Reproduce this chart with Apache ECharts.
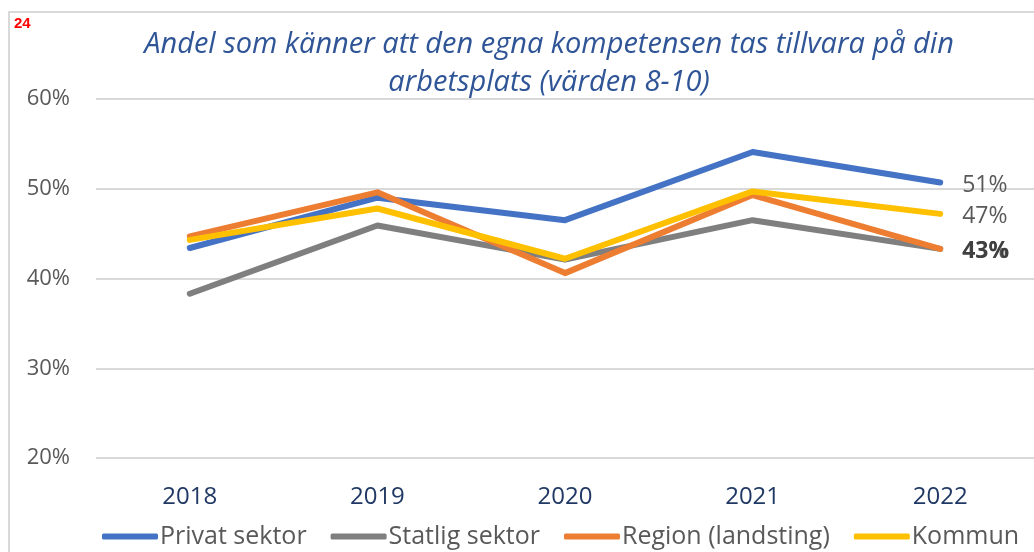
<!DOCTYPE html>
<html>
<head>
    <meta charset="UTF-8">
    <title>Andel som känner att den egna kompetensen tas tillvara</title>
    <script type="text/javascript" src="https://cdn.jsdelivr.net/npm/echarts@6/dist/echarts.min.js"></script>
    <style>
        html, body { margin: 0; padding: 0; background: #fff; overflow: hidden; }
        #frame { position: absolute; left: 8px; top: 11px; width: 1040px; height: 560px;
                 border-left: 2px solid #d9d9d9; border-top: 2px solid #d9d9d9; }
        #chart { position: absolute; left: 0; top: 0; width: 1034px; height: 552px; }
    </style>
</head>
<body>
<div id="frame"></div>
<div id="chart"></div>

<script>
    // data (percent)
    var years = ['2018', '2019', '2020', '2021', '2022'];
    var privat = [43.4, 49.0, 46.5, 54.1, 50.7];
    var statlig = [38.3, 45.9, 42.1, 46.5, 43.3];
    var region = [44.7, 49.6, 40.6, 49.3, 43.3];
    var kommun = [44.3, 47.8, 42.2, 49.7, 47.2];
    var seriesNames = ['Privat sektor', 'Statlig sektor', 'Region (landsting)', 'Kommun'];
    var seriesColors = ['#4472C4', '#7F7F7F', '#ED7D31', '#FFC000'];
    var yTicks = [20, 30, 40, 50, 60];

    var font = "'Open Sans', sans-serif";

    function mkSeries(name, data, color, bold) {
        return {
            name: name,
            type: 'line',
            data: data,
            showSymbol: false,
            symbol: 'none',
            smooth: false,
            color: color,
            lineStyle: { width: 6, color: color, cap: 'round', join: 'round' },
            // value at the end of the line
            endLabel: {
                show: true, distance: 22, offset: [0, 3],
                formatter: function (p) { return Math.round(p.value) + '%'; },
                color: bold ? '#404040' : '#595959', fontSize: 23,
                fontWeight: bold ? 'bold' : 'normal', fontFamily: font
            },
            labelLayout: { hideOverlap: false },
            animation: false
        };
    }

    var option = {
        title: [{
            text: 'Andel som känner att den egna kompetensen tas tillvara på din\narbetsplats (värden 8-10)',
            left: 544, top: 21, textAlign: 'center',
            textStyle: { color: '#2F5597', fontStyle: 'italic', fontWeight: 'normal',
                         fontSize: 29, lineHeight: 38, fontFamily: font }
        }, {
            text: '24', left: 9, top: 11,
            textStyle: { color: '#FF0000', fontWeight: 'bold', fontSize: 15, fontFamily: 'Liberation Sans, Arial, sans-serif' }
        }],
        grid: { left: 96, right: 0, top: 99, bottom: 94 },
        legend: {
            data: seriesNames,
            top: 519, left: 97,
            itemWidth: 56, itemHeight: 6, itemGap: 24,
            icon: 'roundRect',
            textStyle: { color: '#595959', fontSize: 25, fontFamily: font, padding: [0, 0, 0, -3] }
        },
        xAxis: {
            type: 'category',
            data: years,
            boundaryGap: true,
            axisLine: { show: false },
            axisTick: { show: false },
            axisLabel: { color: '#203864', fontSize: 24, margin: 27, fontFamily: font }
        },
        yAxis: {
            type: 'value',
            min: yTicks[0], max: yTicks[yTicks.length - 1], interval: 10,
            axisLine: { show: false },
            axisTick: { show: false },
            axisLabel: { formatter: '{value}%', color: '#595959', fontSize: 22, margin: 26, fontFamily: font },
            splitLine: { lineStyle: { color: '#D9D9D9', width: 2 } }
        },
        series: [
            mkSeries(seriesNames[0], privat, seriesColors[0], false),
            mkSeries(seriesNames[1], statlig, seriesColors[1], false),
            mkSeries(seriesNames[2], region, seriesColors[2], true),
            mkSeries(seriesNames[3], kommun, seriesColors[3], false)
        ]
    };

    //初始化echarts实例
    var myChart = echarts.init(document.getElementById('chart'));
    myChart.setOption(option);
</script>
</body>
</html>
